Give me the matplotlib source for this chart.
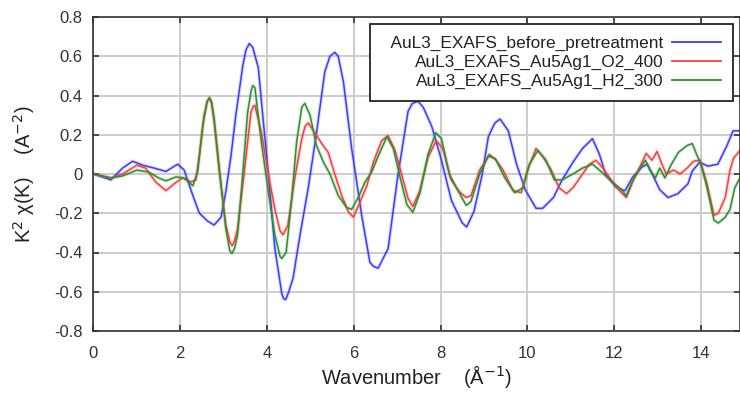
import matplotlib
matplotlib.use("Agg")
import matplotlib.pyplot as plt
import matplotlib.patheffects as pe

plt.rcParams['font.family'] = ['Liberation Sans', 'DejaVu Sans']
plt.rcParams['axes.unicode_minus'] = False

# before pretreatment
k_blue = [0.0, 0.4, 0.67, 0.9, 1.13, 1.4, 1.67, 1.94, 2.09, 2.29, 2.44, 2.63, 2.78, 2.94,
          3.05, 3.17, 3.28, 3.44, 3.51, 3.59, 3.67, 3.8, 3.87, 4.03, 4.18, 4.34, 4.38, 4.43, 4.5,
          4.6, 4.76, 4.95, 5.14, 5.33, 5.45, 5.56, 5.64, 5.76, 5.95, 6.18, 6.37, 6.45, 6.56, 6.79,
          7.02, 7.25, 7.35, 7.48, 7.6, 7.8, 8.0, 8.25, 8.5, 8.6, 8.77, 8.96, 9.1, 9.25, 9.37, 9.56,
          9.75, 9.95, 10.2, 10.35, 10.6, 10.8, 11.05, 11.27, 11.5, 11.66, 11.8, 12.05, 12.25, 12.43,
          12.64, 12.76, 12.9, 13.05, 13.24, 13.47, 13.7, 13.8, 13.97, 14.16, 14.39, 14.6, 14.74, 14.9]
chi_blue = [0.0, -0.03, 0.03, 0.065, 0.045, 0.03, 0.013, 0.05, 0.02, -0.11, -0.2, -0.24, -0.26, -0.22,
            -0.09, 0.095, 0.3, 0.55, 0.63, 0.665, 0.645, 0.54, 0.37, 0.0, -0.38, -0.61, -0.635, -0.64, -0.6,
            -0.53, -0.31, -0.07, 0.21, 0.52, 0.6, 0.62, 0.6, 0.47, 0.13, -0.21, -0.45, -0.47, -0.48, -0.38,
            0.0, 0.32, 0.36, 0.37, 0.34, 0.24, 0.086, -0.135, -0.25, -0.27, -0.19, 0.0, 0.19, 0.26, 0.28, 0.22,
            0.05, -0.08, -0.175, -0.175, -0.12, -0.03, 0.06, 0.13, 0.18, 0.10, 0.0, -0.07, -0.085, -0.015,
            0.035, 0.05, -0.01, -0.08, -0.12, -0.1, -0.05, 0.015, 0.06, 0.04, 0.05, 0.145, 0.22, 0.22]

# Au5Ag1 O2 400
k_red = [0.0, 0.4, 0.67, 1.0, 1.2, 1.43, 1.67, 1.86, 2.05, 2.25, 2.36, 2.44, 2.55, 2.62, 2.67, 2.72, 2.78,
         2.9, 3.05, 3.15, 3.2, 3.25, 3.32, 3.47, 3.63, 3.68, 3.72, 3.87, 4.03, 4.18, 4.3, 4.37, 4.48, 4.64,
         4.8, 4.88, 4.95, 5.1, 5.26, 5.41, 5.56, 5.72, 5.88, 5.99, 6.14, 6.3, 6.45, 6.64, 6.79, 6.95, 7.1,
         7.25, 7.36, 7.52, 7.71, 7.9, 8.05, 8.24, 8.43, 8.59, 8.7, 8.9, 9.1, 9.25, 9.44, 9.67, 9.86,
         10.0, 10.2, 10.35, 10.55, 10.73, 10.9, 11.05, 11.24, 11.43, 11.58, 11.74, 11.93, 12.12,
         12.28, 12.44, 12.6, 12.74, 12.87, 12.99, 13.1, 13.2, 13.37, 13.52, 13.68, 13.83, 13.98,
         14.14, 14.3, 14.4, 14.56, 14.67, 14.75, 14.9]
chi_red = [0.0, -0.02, 0.0, 0.045, 0.03, -0.04, -0.085, -0.05, -0.02, -0.04, -0.03, 0.095, 0.3, 0.37, 0.385, 0.36, 0.265,
           0.01, -0.26, -0.35, -0.365, -0.34, -0.28, 0.0, 0.315, 0.345, 0.35, 0.21, 0.0, -0.18, -0.29, -0.31, -0.26, -0.02,
           0.18, 0.245, 0.26, 0.21, 0.155, 0.11, 0.0, -0.11, -0.195, -0.22, -0.145, -0.06, 0.06, 0.17, 0.195, 0.12, 0.0,
           -0.125, -0.165, -0.085, 0.085, 0.17, 0.13, -0.03, -0.09, -0.12, -0.11, 0.02, 0.09, 0.08, 0.02, -0.085, -0.095,
           0.02, 0.13, 0.09, 0.02, -0.07, -0.1, -0.07, -0.01, 0.05, 0.07, 0.03, -0.03, -0.085,
           -0.12, -0.03, 0.04, 0.105, 0.07, 0.115, 0.05, 0.0, 0.02, 0.0, 0.03, 0.065, 0.07,
           -0.05, -0.21, -0.2, -0.12, 0.02, 0.08, 0.12]

# Au5Ag1 H2 300
k_green = [0.0, 0.4, 0.67, 1.0, 1.27, 1.5, 1.67, 1.9, 2.09, 2.29, 2.4, 2.52, 2.62, 2.67, 2.72, 2.78, 2.9,
           3.05, 3.14, 3.19, 3.25, 3.32, 3.44, 3.55, 3.63, 3.67, 3.72, 3.87, 4.03, 4.18, 4.3, 4.34, 4.44, 4.56,
           4.68, 4.8, 4.87, 4.99, 5.14, 5.3, 5.45, 5.64, 5.83, 5.95, 6.1, 6.26, 6.41, 6.56, 6.76, 6.91, 7.07,
           7.22, 7.36, 7.52, 7.71, 7.89, 8.02, 8.2, 8.4, 8.59, 8.7, 8.9, 9.12, 9.28, 9.48, 9.71,
           9.9, 10.05, 10.24, 10.43, 10.62, 10.8, 11.05, 11.27, 11.5, 11.66, 11.9, 12.12, 12.28,
           12.44, 12.6, 12.72, 12.83, 12.95, 13.05, 13.17, 13.32, 13.48, 13.68, 13.8, 13.9, 14.0,
           14.14, 14.3, 14.4, 14.56, 14.67, 14.78, 14.9]
chi_green = [0.0, -0.02, -0.01, 0.02, 0.01, -0.02, -0.035, -0.015, -0.02, -0.06, 0.01, 0.25, 0.37, 0.39, 0.37, 0.285, 0.03,
             -0.28, -0.39, -0.405, -0.38, -0.31, 0.0, 0.31, 0.42, 0.45, 0.44, 0.16, -0.09, -0.31, -0.42, -0.43, -0.4, -0.145,
             0.16, 0.34, 0.36, 0.3, 0.145, 0.06, 0.0, -0.11, -0.17, -0.18, -0.12, -0.04, 0.01, 0.09, 0.19, 0.13, -0.02,
             -0.155, -0.195, -0.1, 0.1, 0.21, 0.18, 0.0, -0.085, -0.16, -0.14, 0.0, 0.1, 0.07, -0.02, -0.095,
             -0.07, 0.05, 0.12, 0.07, -0.03, -0.03, 0.0, 0.03, 0.05, 0.02, -0.03, -0.07, -0.11,
             -0.03, 0.03, 0.07, 0.02, -0.02, 0.03, -0.02, 0.05, 0.11, 0.145, 0.155, 0.1, 0.05,
             -0.07, -0.235, -0.25, -0.22, -0.18, -0.07, -0.02]

labels = ["  AuL3_EXAFS_before_pretreatment", "AuL3_EXAFS_Au5Ag1_O2_400", "AuL3_EXAFS_Au5Ag1_H2_300"]
colors = ["#3c3cff", "#ff3c3c", "#2f8f2f"]

xticks = [0, 2, 4, 6, 8, 10, 12, 14]
yticks = [-0.8, -0.6, -0.4, -0.2, 0, 0.2, 0.4, 0.6, 0.8]
ytick_labels = ["-0.8", "-0.6", "-0.4", "-0.2", "0", "0.2", "0.4", "0.6", "0.8"]

fig = plt.figure(figsize=(7.4, 3.94), dpi=100)
ax = fig.add_axes([93.5 / 740, 1 - 331 / 394, 1 - 93.5 / 740, 314 / 394])

series = [(k_blue, chi_blue), (k_red, chi_red), (k_green, chi_green)]
for (k, chi), lab, col in zip(series, labels, colors):
    ax.plot(k, chi, color=col, lw=1.1, label=lab, solid_joinstyle="round",
            path_effects=[pe.Stroke(linewidth=2.6, foreground=col, alpha=0.18), pe.Normal()])

ax.set_xlim(0, 14.9)
ax.set_ylim(-0.8, 0.8)
ax.set_xticks(xticks)
ax.set_xticklabels([str(t) for t in xticks])
ax.set_yticks(yticks)
ax.set_yticklabels(ytick_labels)
ax.grid(True, color="#cccccc", lw=1.4)
ax.set_axisbelow(True)
ax.tick_params(direction="in", length=4, width=1.2, color="#333333", labelsize=12,
               labelcolor="#333333", top=True, right=True)
ax.tick_params(axis="x", pad=11)
ax.tick_params(axis="y", pad=8)
for s in ax.spines.values():
    s.set_color("#333333")
    s.set_linewidth(1.2)

ax.set_xlabel("Wavenumber    (Å$^{-1}$)", fontsize=14.5, color="#222222", labelpad=1)
ax.set_ylabel("K$^2$ χ(K)    (A$^{-2}$)", fontsize=14.5, color="#222222")
ax.yaxis.set_label_coords(-0.088, 0.5)

leg = ax.legend(loc="upper right", markerfirst=False, fontsize=12.4, frameon=True, fancybox=False,
                edgecolor="#222222", framealpha=1, handlelength=2.85, handletextpad=0.5,
                labelspacing=0.22, borderpad=0.7, borderaxespad=0.4)
leg.get_frame().set_linewidth(1.3)
for t in leg.get_texts():
    t.set_color("#222222")
for h in leg.get_lines():
    h.set_path_effects([])
    h.set_linewidth(1.3)

fig.savefig("out.png", dpi=100)
